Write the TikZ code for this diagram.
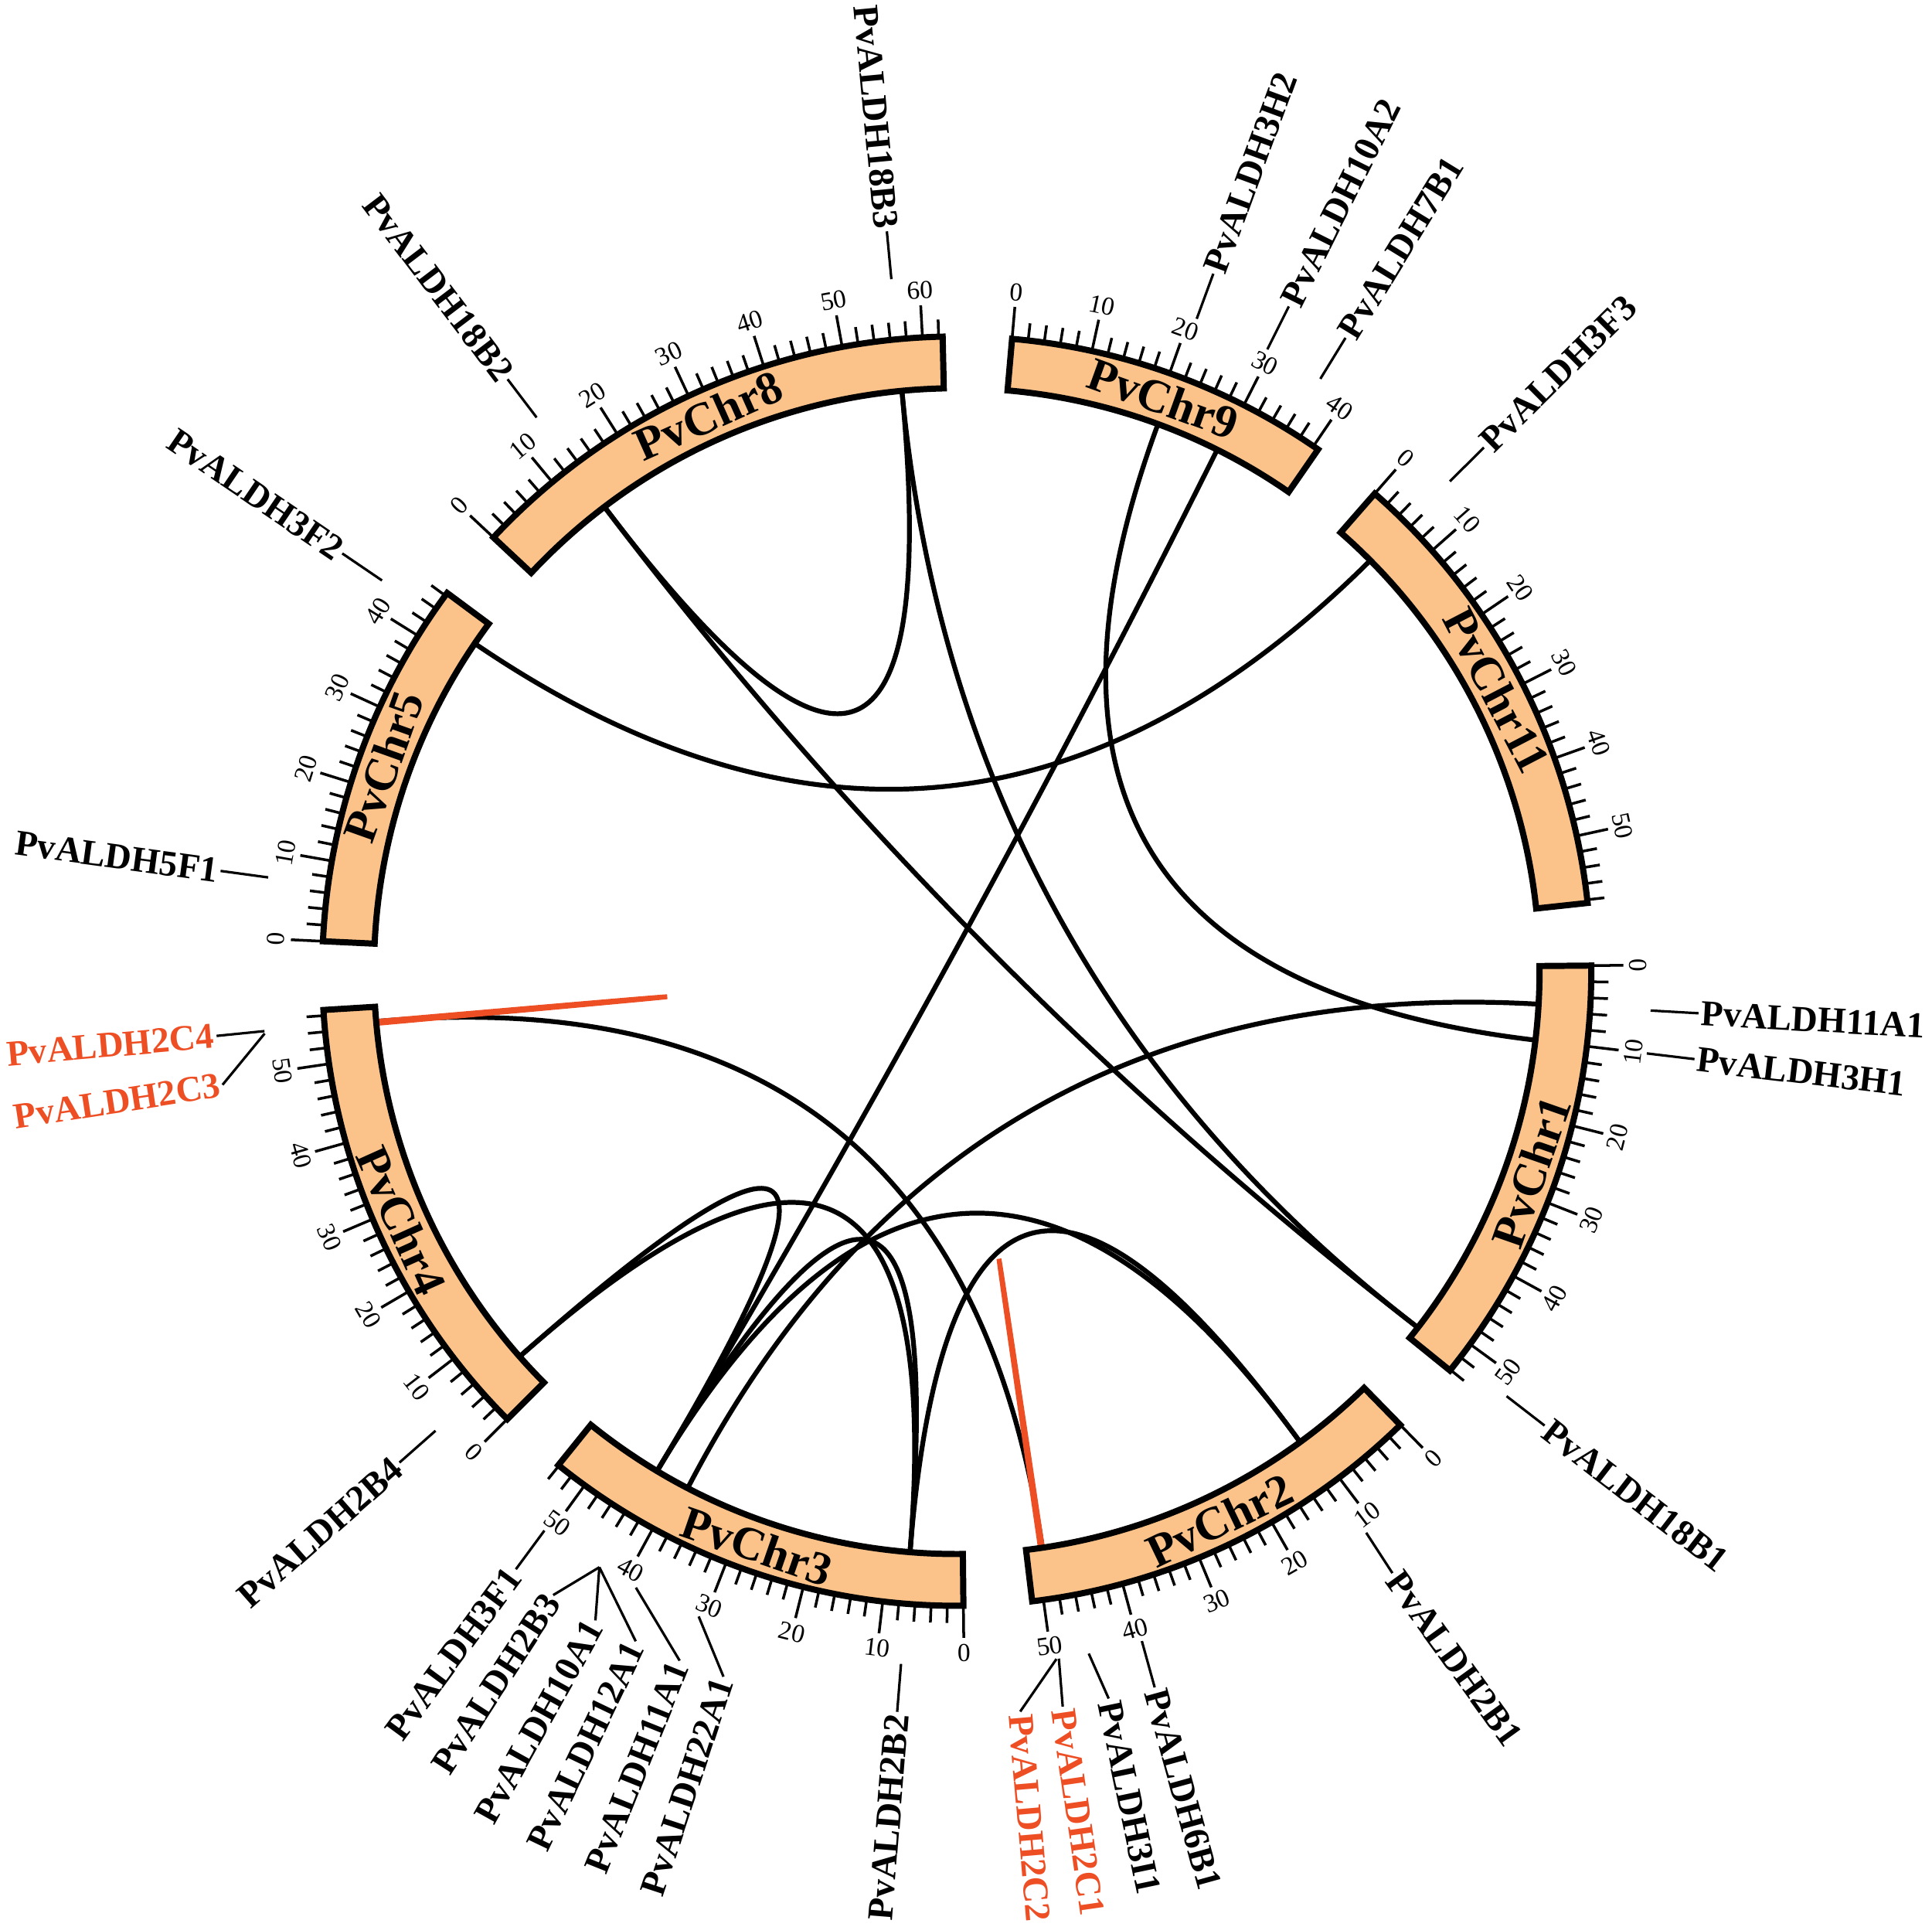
\documentclass[tikz,border=0pt]{standalone}
\usepackage{fontspec}
\setmainfont{Liberation Serif}
\usetikzlibrary{calc}
\definecolor{chrfill}{RGB}{251,195,138}
\definecolor{dupred}{RGB}{238,78,36}
% gene: id, gene angle, label angle, label suffix, colour
\newcommand\mkgene[5]{%
  \coordinate (g-#1) at (#2:472);
  \coordinate (l-#1) at (#2:564);
  \pgfmathtruncatemacro\rh{cos(#3)>0 ? 1 : 0}%
  \ifnum\rh=1
    \node[genelbl, text=#5, anchor=west, rotate=#3] (t-#1) at (#3:603) {PvALDH#4};
    \draw[leader] (l-#1) -- (t-#1.west);
  \else
    \pgfmathsetmacro\rr{#3+180}%
    \node[genelbl, text=#5, anchor=east, rotate=\rr] (t-#1) at (#3:603) {PvALDH#4};
    \draw[leader] (l-#1) -- (t-#1.east);
  \fi
}
% link: style, gene a, gene b (quadratic bezier through centre)
\newcommand\mklink[3]{%
  \draw[#1] (g-#2) .. controls ($(g-#2)!0.6667!(O)$) and ($(g-#3)!0.6667!(O)$) .. (g-#3);
}
\begin{document}
\begin{tikzpicture}[x=1pt,y=1pt,
  chrom/.style={draw=black, line width=5pt, fill=chrfill, line join=miter},
  tickmark/.style={line width=2.2pt},
  link/.style={line width=3.9pt, draw=black},
  redlink/.style={line width=3.9pt, draw=dupred},
  leader/.style={line width=2pt, draw=black},
  genelbl/.style={font=\fontsize{29.5}{30}\selectfont\bfseries, inner sep=2pt},
  chrlbl/.style={font=\fontsize{38}{39}\selectfont\bfseries, inner sep=0pt},
  ticklbl/.style={font=\fontsize{21}{22}\selectfont, inner sep=0pt}
]
\useasboundingbox (-776.5,-775) rectangle (791.5,788);
\coordinate (O) at (0,0);

% genes and labels
\mkgene{18B2}{127.2}{127.2}{18B2}{black}
\mkgene{18B3}{95.4}{95.4}{18B3}{black}
\mkgene{3H2}{69.8}{69.8}{3H2}{black}
\mkgene{10A2}{63.45}{63.45}{10A2}{black}
\mkgene{7B1}{58.45}{58.45}{7B1}{black}
\mkgene{3F3}{44.8}{44.8}{3F3}{black}
\mkgene{11A1a}{-3.25}{-3.25}{11A1}{black}
\mkgene{3H1}{-6.8}{-6.8}{3H1}{black}
\mkgene{18B1}{-37.7}{-37.7}{18B1}{black}
\mkgene{2B1}{-53.9}{-54.1}{2B1}{black}
\mkgene{6B1}{-74.55}{-74.55}{6B1}{black}
\mkgene{3I1}{-79.05}{-78.2}{3I1}{black}
\mkgene{2C1}{-81.55}{-81.8}{2C1}{dupred}
\mkgene{2C2}{-81.75}{-85.1}{2C2}{dupred}
\mkgene{2B2}{-94.6}{-94.6}{2B2}{black}
\mkgene{22A1}{-111.8}{-108.3}{22A1}{black}
\mkgene{11A1b}{-117.5}{-111.9}{11A1}{black}
\mkgene{12A1}{-120.95}{-115.6}{12A1}{black}
\mkgene{10A1}{-120.95}{-119.1}{10A1}{black}
\mkgene{2B3}{-120.95}{-122.9}{2B3}{black}
\mkgene{3F1}{-126.4}{-126.4}{3F1}{black}
\mkgene{2B4}{221.4}{221.4}{2B4}{black}
\mkgene{2C3}{185.15}{188.8}{2C3}{dupred}
\mkgene{2C4}{184.95}{185.0}{2C4}{dupred}
\mkgene{5F1}{172.25}{172.25}{5F1}{black}
\mkgene{3F2}{145.8}{145.8}{3F2}{black}

% links
\mklink{link}{18B2}{18B1}
\mklink{link}{18B2}{18B3}
\mklink{link}{18B3}{18B1}
\mklink{link}{3H2}{3H1}
\mklink{link}{10A2}{10A1}
\mklink{link}{3F3}{3F2}
\mklink{link}{11A1a}{11A1b}
\mklink{link}{2C4}{2C1}
\mklink{link}{2B4}{2B3}
\mklink{link}{2B4}{2B2}
\mklink{link}{2B3}{2B1}
\mklink{link}{2B3}{2B2}
\mklink{link}{2B2}{2B1}
\mklink{redlink}{2C4}{2C3}
\mklink{redlink}{2C1}{2C2}

% chromosomes with ticks
\foreach \cn/\st/\len/\tmax in {9/85.0/40.7/40, 11/48.8/58.4/58, 1/0.5/54.1/54, 2/-45.65/51.4/50, 3/-89.4/54.1/54, 4/224.9/56.7/56, 5/177.3/46.4/46, 8/136.9/62.5/62}{
  \pgfmathsetmacro\en{\st-0.73*\len}
  \pgfmathsetmacro\md{(\st+\en)/2}
  \pgfmathsetmacro\mrot{sin(\md)<0 ? \md+90 : \md-90}
  \draw[chrom] (\st:473) arc[start angle=\st, end angle=\en, radius=473] -- (\en:515) arc[start angle=\en, end angle=\st, radius=515] -- cycle;
  \node[chrlbl, rotate=\mrot] (chr\cn) at (\md:494) {PvChr\cn};
  \foreach \mb in {0,2,...,\tmax}{
    \pgfmathsetmacro\ang{\st-0.73*\mb}
    \pgfmathtruncatemacro\isten{mod(\mb,10)==0 ? 1 : 0}
    \ifnum\isten=1
      \draw[tickmark] (\ang:517) -- (\ang:541);
      \pgfmathsetmacro\arot{sin(\ang)<0 ? \ang+90 : \ang-90}
      \node[ticklbl, rotate=\arot] (tk\cn-\mb) at (\ang:553) {\mb};
    \else
      \draw[tickmark] (\ang:517) -- (\ang:529);
    \fi
  }
}
\end{tikzpicture}
\end{document}
